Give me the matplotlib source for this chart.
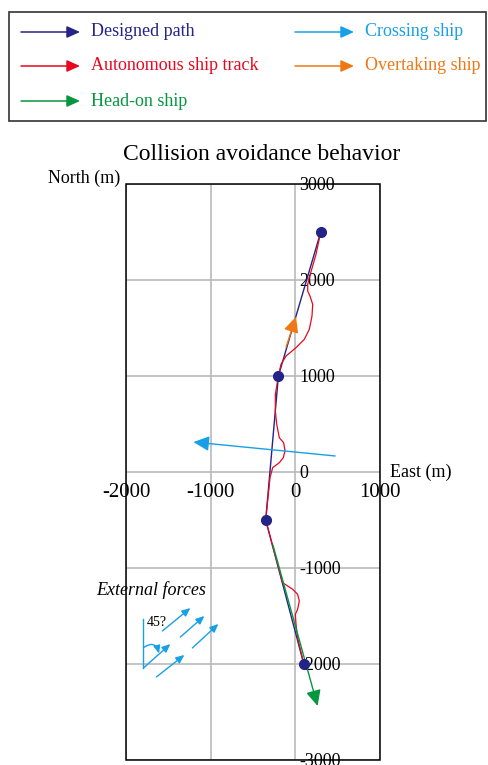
import matplotlib
matplotlib.use("Agg")
import matplotlib.pyplot as plt
from matplotlib.patches import FancyArrowPatch, Rectangle

plt.rcParams["font.family"] = ["Liberation Serif", "DejaVu Serif"]
plt.rcParams["axes.unicode_minus"] = False

# designed path waypoints (m)
path_east = [100, -350, -200, 300]
path_north = [-2000, -500, 1000, 2500]

# autonomous ship track (m)
track_east = [100, 27, 8, 0, 27, 47, 27, -31, -150, -350, -299, -268, -189, -142, -122,
              -138, -189, -220, -236, -236, -200, -169, -110, 8, 106, 165, 197, 205, 173,
              146, 146, 165, 244, 300]
track_north = [-2000, -1726, -1587, -1483, -1430, -1344, -1274, -1222, -1153, -500, -59, 45,
               97, 149, 219, 305, 357, 497, 635, 809, 1000, 1122, 1208, 1295, 1382, 1486,
               1625, 1747, 1833, 1885, 1955, 2024, 2268, 2500]

# target ships: start -> end (m)
crossing = [(470, 167), (-1204, 312)]
overtaking = [(-110, 1300), (8, 1618)]
headon = [(-265, -760), (263, -2437)]

# external force arrows (m)
force_start = [(-1795, -2042), (-1570, -1656), (-1358, -1719), (-1216, -1833), (-1641, -2135)]
force_end = [(-1476, -1792), (-1240, -1417), (-1074, -1500), (-909, -1583), (-1311, -1906)]

x_ticks = [-2000, -1000, 0, 1000]
y_ticks = [-3000, -2000, -1000, 0, 1000, 2000, 3000]

navy = "#232388"
red = "#e8081e"
green = "#05963f"
sky = "#18a0e6"
orange = "#f07814"

fig = plt.figure(figsize=(4.88, 7.65), dpi=100)
W, H = 488.0, 765.0
ax = fig.add_axes([126 / W, 1 - 760 / H, 254 / W, 576 / H])
ax.set_xlim(-2000, 1000)
ax.set_ylim(-3000, 3000)
ax.set_xticks(x_ticks)
ax.set_yticks(y_ticks)
ax.grid(True, color="#b4b4b4", lw=1.1)
ax.set_axisbelow(True)

# axes crossing at zero, labels beside them
ax.spines["bottom"].set_position(("data", 0))
ax.yaxis.tick_right()
ax.spines["right"].set_position(("data", 0))
for s in ax.spines.values():
    s.set_visible(False)
ax.tick_params(axis="x", length=0, pad=8, labelsize=15)
ax.tick_params(axis="y", length=0, pad=3, labelsize=13)
for lab in ax.get_yticklabels():
    lab.set_clip_on(False)
ax.add_patch(Rectangle((0, 0), 1, 1, transform=ax.transAxes, fill=False,
                       ec="black", lw=1.1, clip_on=False, zorder=1))

ax.plot(path_east, path_north, color=navy, lw=1.0, zorder=3)
ax.plot(track_east, track_north, color=red, lw=0.9, zorder=4)


def ship_arrow(seg, color, z):
    ax.annotate("", xy=seg[1], xytext=seg[0],
                arrowprops=dict(arrowstyle="-|>,head_length=0.95,head_width=0.45",
                                mutation_scale=10, color=color, lw=1.0,
                                shrinkA=0, shrinkB=0), zorder=z)


ship_arrow(crossing, sky, 5)
ship_arrow(overtaking, orange, 5)
ship_arrow(headon, green, 5)
ax.plot(path_east, path_north, "o", color=navy, ms=7, zorder=6)

# external forces sketch
for s, e in zip(force_start, force_end):
    ax.annotate("", xy=e, xytext=s,
                arrowprops=dict(arrowstyle="-|>,head_length=0.5,head_width=0.22",
                                mutation_scale=10, color=sky, lw=1.0,
                                shrinkA=0, shrinkB=0), annotation_clip=False)
ax.plot([force_start[0][0], force_start[0][0]], [force_start[0][1], -1531], color=sky, lw=1.0)
ax.annotate("", xy=(-1610, -1890), xytext=(-1795, -1830),
            arrowprops=dict(arrowstyle="-|>,head_length=0.45,head_width=0.2",
                            mutation_scale=10, color=sky, lw=1.0,
                            connectionstyle="arc3,rad=-0.7", shrinkA=0, shrinkB=0))
ax.text(-1640, -1570, "45?", fontsize=10, ha="center", va="center")
ax.text(-1700, -1229, "External forces", fontsize=13, style="italic", ha="center", va="center")

ax.text(-0.024, 1.01, "North (m)", transform=ax.transAxes, fontsize=13, ha="right", va="center")
ax.text(1.04, 0, "East (m)", transform=ax.get_yaxis_transform(), fontsize=13,
        ha="left", va="center")
fig.text(262 / W, 1 - 155 / H, "Collision avoidance behavior", fontsize=17,
         ha="center", va="center")

# legend box
fig.add_artist(Rectangle((9 / W, 1 - 121 / H), 477 / W, 109 / H, transform=fig.transFigure,
                         fill=False, ec="#333333", lw=1.2))
legend_items = [("Designed path", navy, 21, 32), ("Autonomous ship track", red, 21, 66),
                ("Head-on ship", green, 21, 101), ("Crossing ship", sky, 295, 32),
                ("Overtaking ship", orange, 295, 66)]
for name, c, x0, y0 in legend_items:
    fig.add_artist(FancyArrowPatch((x0 / W, 1 - y0 / H), ((x0 + 59) / W, 1 - y0 / H),
                                   transform=fig.transFigure,
                                   arrowstyle="-|>,head_length=0.8,head_width=0.36",
                                   mutation_scale=10, color=c, lw=1.1,
                                   shrinkA=0, shrinkB=0))
    fig.text((x0 + 70) / W, 1 - y0 / H, name, color=c, fontsize=13, ha="left", va="center")

fig.savefig("out.png", dpi=100)
